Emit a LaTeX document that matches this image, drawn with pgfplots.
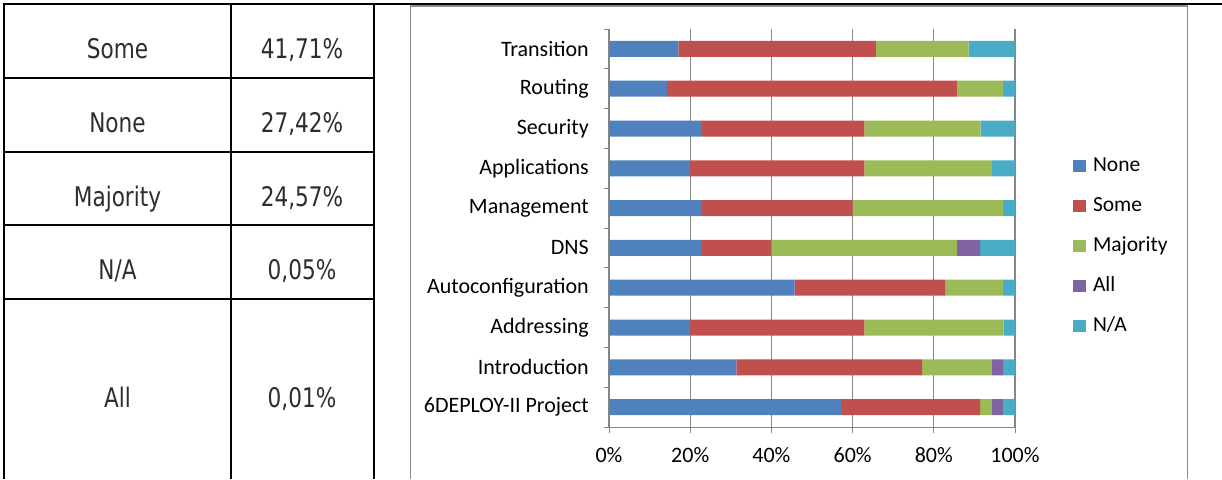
\documentclass[border=0pt]{standalone}
\usepackage{fontspec}
\setmainfont{Carlito}
\newfontfamily\tablefont[FakeStretch=0.8]{DejaVu Sans}
\usepackage{pgfplots}
\pgfplotsset{compat=1.18}
\usepackage{pgfplotstable}
\definecolor{cNone}{HTML}{4F81BD}
\definecolor{cSome}{HTML}{C0504D}
\definecolor{cMaj}{HTML}{9BBB59}
\definecolor{cAll}{HTML}{8064A2}
\definecolor{cNA}{HTML}{4BACC6}
\definecolor{axgray}{RGB}{134,134,134}
\definecolor{framegray}{RGB}{140,140,140}
\definecolor{tgray}{RGB}{45,45,45}

\pgfplotstableread{
y None Some Majority All NA
0 57.1 34.3 2.9 2.9 2.8
1 31.4 45.7 17.1 2.9 2.9
2 20.0 42.9 34.3 0 2.8
3 45.7 37.1 14.3 0 2.9
4 22.9 17.1 45.7 5.7 8.6
5 22.9 37.1 37.1 0 2.9
6 20.0 42.9 31.4 0 5.7
7 22.9 40.0 28.6 0 8.5
8 14.3 71.4 11.4 0 2.9
9 17.1 48.6 22.9 0 11.4
}\datatable

\pgfplotsset{
  mybar/.style={fill=#1, draw=none,
    legend image code/.code={\fill[#1] (0pt,0pt) rectangle (13pt,12pt); \path (18pt,0pt);}},
}

\begin{document}
\begin{tikzpicture}[x=1pt,y=1pt]
\useasboundingbox (0,0) rectangle (1222,479);
% table
\draw[line width=2pt] (3,475) -- (1222,475);
\foreach \x in {4,231,374} \draw[line width=2pt] (\x,476) -- (\x,0);
\foreach \y in {401,327,254,180} \draw[line width=2pt] (4,\y) -- (374,\y);
\tikzset{tt/.style={anchor=base, font=\tablefont\fontsize{27}{32}\selectfont, text=tgray, inner sep=0pt}}
\node[tt] at (117.5,420) {Some};
\node[tt] at (302,420) {41,71\%};
\node[tt] at (117.5,346) {None};
\node[tt] at (302,346) {27,42\%};
\node[tt] at (117.5,272) {Majority};
\node[tt] at (302,272) {24,57\%};
\node[tt] at (117.5,199) {N/A};
\node[tt] at (302,199) {0,05\%};
\node[tt] at (117.5,71) {All};
\node[tt] at (302,71) {0,01\%};
% chart frame
\draw[line width=1.5pt, framegray] (410.5,0) -- (410.5,473) -- (1187.5,473) -- (1187.5,0);
\begin{axis}[
  at={(609pt,52pt)}, anchor=south west,
  scale only axis, width=406pt, height=398pt,
  xbar stacked, bar width=16pt,
  xmin=0, xmax=100, ymin=-0.5, ymax=9.5,
  axis lines*=left,
  axis line style={draw=axgray, line width=1pt},
  xtick={0,20,...,100},
  xticklabels={0\%,20\%,40\%,60\%,80\%,100\%},
  ytick={0,...,9},
  yticklabels={6DEPLOY-II Project,Introduction,Addressing,Autoconfiguration,DNS,Management,Applications,Security,Routing,Transition},
  minor ytick={-0.5,0.5,...,9.5},
  tick align=outside, major tick length=6pt, minor tick length=5pt,
  every major y tick/.style={draw=none},
  tick style={axgray, line width=1pt},
  xmajorgrids, grid style={axgray, line width=1.3pt},
  ticklabel style={font=\fontsize{22}{26}\selectfont, text=black},
  yticklabel style={inner sep=0pt, anchor=east, xshift=-14pt},
  xticklabel style={inner sep=0pt, text height=14pt, text depth=0pt, anchor=north, yshift=-15pt},
  legend style={draw=none, fill=none, inner sep=0pt, outer sep=0pt,
    at={(1.1429,0.681)}, anchor=north west, row sep=20.5pt,
    font=\fontsize{21.5}{25}\selectfont},
  legend cell align=left,
  legend style={cells={anchor=base west, inner sep=0pt, text height=14pt, text depth=4pt}},
]
\addplot[mybar=cNone] table[x=None,y=y]{\datatable};
\addplot[mybar=cSome] table[x=Some,y=y]{\datatable};
\addplot[mybar=cMaj] table[x=Majority,y=y]{\datatable};
\addplot[mybar=cAll] table[x=All,y=y]{\datatable};
\addplot[mybar=cNA] table[x=NA,y=y]{\datatable};
\legend{None,Some,Majority,All,N/A}
\end{axis}
\end{tikzpicture}
\end{document}
